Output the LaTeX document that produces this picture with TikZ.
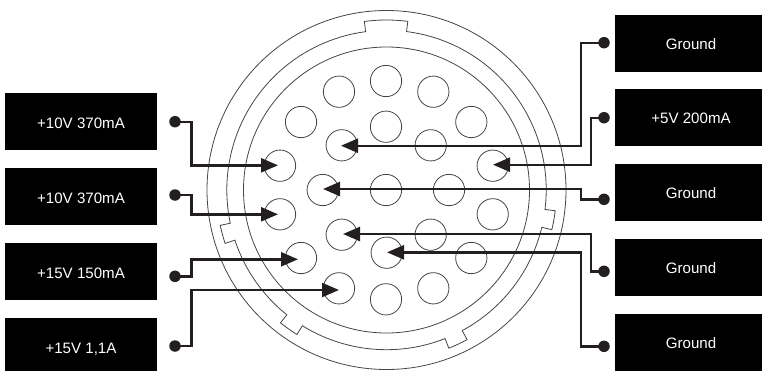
\documentclass[tikz,border=0pt]{standalone}
\usepackage{fontspec}
\setmainfont{Liberation Sans}
\usetikzlibrary{arrows.meta}
\definecolor{ink}{HTML}{231F20}
\definecolor{ringc}{HTML}{454545}
\tikzset{
  label box/.style={fill=black,text=white,minimum width=152pt,minimum height=57pt,inner sep=0pt,text height=14pt,text depth=0pt,font=\fontsize{15.1}{18}\selectfont},
  right box/.style={label box,text height=12.4pt},
  pin/.style={circle,draw=ringc,line width=0.8pt,minimum size=31.3pt,inner sep=0pt},
  terminal/.style={circle,fill=ink,minimum size=11.5pt,inner sep=0pt},
  ring/.style={draw=ringc,line width=0.8pt},
  wire/.style={draw=ink,line width=2.4pt,-{Triangle[length=17pt,width=14pt]}},
}
\begin{document}
\begin{tikzpicture}[x=1pt,y=-1pt]
\useasboundingbox (0,0) rectangle (762,370);
\clip (0,0) rectangle (762,370);
% label boxes
\node[label box] (bL1) at (81,121.7) {+10V 370mA};
\node[label box] (bL2) at (81,196.5) {+10V 370mA};
\node[label box] (bL3) at (81,271.5) {+15V 150mA};
\node[label box] (bL4) at (81,346.5) {+15V 1,1A};
\node[right box] (bR1) at (691,43.5) {Ground};
\node[right box] (bR2) at (691,117.5) {+5V 200mA};
\node[right box] (bR3) at (691,192.5) {Ground};
\node[right box] (bR4) at (691,267.5) {Ground};
\node[right box] (bR5) at (691,342.5) {Ground};
% connector body
\begin{scope}[shift={(386.5,190)}]
\draw[ring] (0,0) circle[radius=179.5];
\draw[ring] (0,0) circle[radius=143];
\draw[ring] (7:170) arc[start angle=7,end angle=13.5,radius=170]
  -- (13.5:159.7) arc[start angle=13.5,end angle=61.7,radius=159.7]
  -- (61.7:170) arc[start angle=61.7,end angle=68.5,radius=170]
  -- (68.5:159.7) arc[start angle=68.5,end angle=121.8,radius=159.7]
  -- (121.8:170) arc[start angle=121.8,end angle=128.6,radius=170]
  -- (128.6:159.7) arc[start angle=128.6,end angle=161.7,radius=159.7]
  -- (161.7:170) arc[start angle=161.7,end angle=168,radius=170]
  -- (168:159.7) arc[start angle=168,end angle=262.5,radius=159.7]
  -- (262.5:170) arc[start angle=262.5,end angle=277.2,radius=170]
  -- (277.2:159.7) arc[start angle=277.2,end angle=367,radius=159.7]
  -- cycle;
\end{scope}
% pins
\node[pin] (p1) at (386,81) {};
\node[pin] (p2) at (339,91.7) {};
\node[pin] (p3) at (433.3,91.7) {};
\node[pin] (p4) at (301,122) {};
\node[pin] (p5) at (471.3,122) {};
\node[pin] (p6) at (386,126.7) {};
\node[pin] (p7) at (341.7,145.3) {};
\node[pin] (p8) at (430.7,145.3) {};
\node[pin] (p9) at (280,165.7) {};
\node[pin] (p10) at (492.7,165.7) {};
\node[pin] (p11) at (322.7,190) {};
\node[pin] (p12) at (386,190) {};
\node[pin] (p13) at (449,190) {};
\node[pin] (p14) at (280,214.3) {};
\node[pin] (p15) at (492.7,214.3) {};
\node[pin] (p16) at (341.7,234.7) {};
\node[pin] (p17) at (430.7,234.7) {};
\node[pin] (p18) at (386.7,252.7) {};
\node[pin] (p19) at (301,258) {};
\node[pin] (p20) at (471.3,258) {};
\node[pin] (p21) at (339,288.3) {};
\node[pin] (p22) at (433.3,288.3) {};
\node[pin] (p23) at (386,299.3) {};
% terminals
\node[terminal] (dL1) at (175,121.7) {};
\node[terminal] (dL2) at (175,195) {};
\node[terminal] (dL3) at (175,276.3) {};
\node[terminal] (dL4) at (175,346) {};
\node[terminal] (dR1) at (604,42.7) {};
\node[terminal] (dR2) at (604,117.7) {};
\node[terminal] (dR3) at (604,199.3) {};
\node[terminal] (dR4) at (604,271.3) {};
\node[terminal] (dR5) at (604,346.3) {};
% routing columns and arrow tips
\coordinate (xL) at (191.5,0);
\coordinate (xA) at (581,0);
\coordinate (xB) at (591,0);
\coordinate (tL1) at ([shift={(-2,-0.4)}]p9.center);
\coordinate (tL2) at ([shift={(-2,0)}]p14.center);
\coordinate (tL3) at ([shift={(-3,1.3)}]p19.center);
\coordinate (tL4) at ([shift={(0,1.7)}]p21.center);
\coordinate (tR1) at ([shift={(-0.7,0.4)}]p7.center);
\coordinate (tR2) at ([shift={(0.3,-1)}]p10.center);
\coordinate (tR3) at ([shift={(0.3,-1)}]p11.center);
\coordinate (tR4) at ([shift={(1.3,-0.7)}]p16.center);
\coordinate (tR5) at ([shift={(0.3,-0.4)}]p18.center);
% wires
\draw[wire] (dL1.center) -| (xL |- tL1) -- (tL1);
\draw[wire] (dL2.center) -| (xL |- tL2) -- (tL2);
\draw[wire] (dL3.center) -| (xL |- tL3) -- (tL3);
\draw[wire] (dL4.center) -| (xL |- tL4) -- (tL4);
\draw[wire] (dR1.center) -| (xA |- tR1) -- (tR1);
\draw[wire] (dR2.center) -| (xB |- tR2) -- (tR2);
\draw[wire] (dR3.center) -| (xA |- tR3) -- (tR3);
\draw[wire] (dR4.center) -| (xB |- tR4) -- (tR4);
\draw[wire] (dR5.center) -| (xA |- tR5) -- (tR5);
\end{tikzpicture}
\end{document}
